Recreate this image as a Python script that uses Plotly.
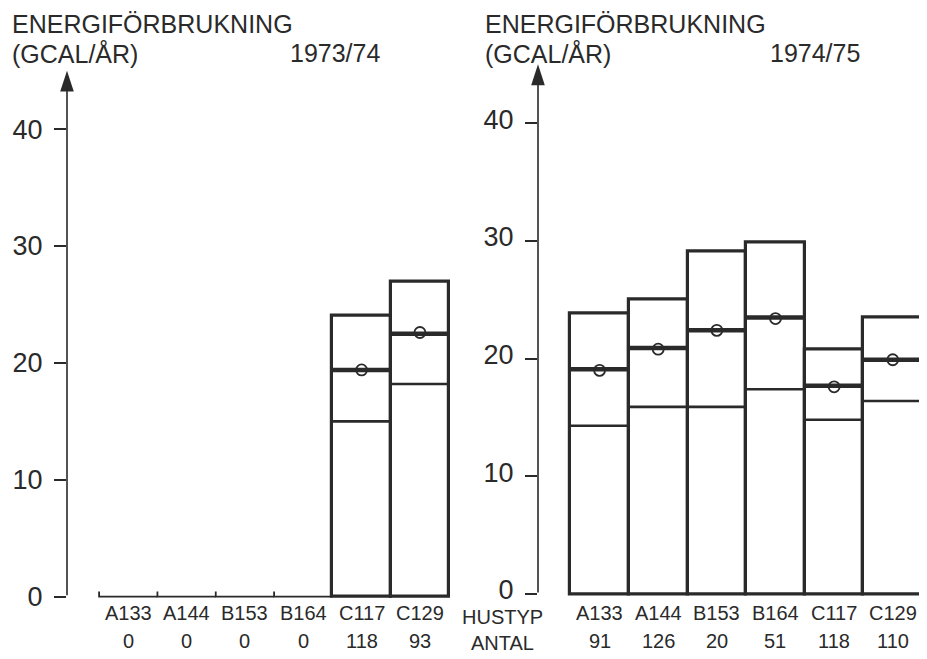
import plotly.graph_objects as go

# ---------------- data ----------------
hustyp = ["A133", "A144", "B153", "B164", "C117", "C129"]
antal_7374 = [0, 0, 0, 0, 118, 93]
antal_7475 = [91, 126, 20, 51, 118, 110]

# 1973/74 (GCAL/år)
top_7374 = [None, None, None, None, 24.0, 26.9]
mid_7374 = [None, None, None, None, 19.4, 22.5]
low_7374 = [None, None, None, None, 15.0, 18.2]
circ_7374 = [None, None, None, None, 19.4, 22.6]

# 1974/75 (GCAL/år)
top_7475 = [23.8, 25.0, 29.1, 29.9, 20.8, 23.5]
mid_7475 = [19.1, 20.9, 22.4, 23.5, 17.7, 19.9]
low_7475 = [14.3, 15.9, 15.9, 17.4, 14.8, 16.4]
circ_7475 = [19.0, 20.8, 22.4, 23.4, 17.6, 19.9]

y_ticks = [0, 10, 20, 30, 40]
title_l1 = "ENERGIFÖRBRUKNING"
title_l2 = "(GCAL/ÅR)"
years = ["1973/74", "1974/75"]
row_labels = ["HUSTYP", "ANTAL"]

# ---------------- style / layout helpers ----------------
OFF = 8                      # page body margin
FW, FH = 927 - OFF, 659 - OFF
INK = "#2a2a2a"
FONT = "Liberation Sans"
XR = [-1.05, 5.55]
YR = [-0.3, 45.5]
ARROW_TOP = 45.0


def fx(px):
    return (px - OFF) / FW


def fy(py):
    return 1 - (py - OFF) / FH


def ydomain(zero_px, ppu):
    bottom = zero_px - YR[0] * ppu
    top = zero_px - YR[1] * ppu
    return [fy(bottom), fy(top)]


fig = go.Figure()


def segs(vals):
    xs, ys = [], []
    for i, v in enumerate(vals):
        if v is None:
            continue
        xs += [i - 0.5, i + 0.5, None]
        ys += [v, v, None]
    return xs, ys


def add_panel(xa, ya, top, mid, low, circ, antal):
    idx = list(range(len(hustyp)))
    fig.add_trace(go.Bar(
        x=idx, y=top, width=1, xaxis=xa, yaxis=ya,
        marker=dict(color="white", line=dict(color=INK, width=3.2)),
        showlegend=False, hoverinfo="skip"))
    xs, ys = segs(low)
    fig.add_trace(go.Scatter(x=xs, y=ys, mode="lines", xaxis=xa, yaxis=ya,
                             line=dict(color=INK, width=2.6), showlegend=False))
    xs, ys = segs(mid)
    fig.add_trace(go.Scatter(x=xs, y=ys, mode="lines", xaxis=xa, yaxis=ya,
                             line=dict(color=INK, width=4.5), showlegend=False))
    fig.add_trace(go.Scatter(x=idx, y=circ, mode="markers", xaxis=xa, yaxis=ya,
                             marker=dict(symbol="circle-open", size=11, color=INK,
                                         line=dict(width=1.8, color=INK)),
                             showlegend=False))
    # baseline with boundary ticks for categories without data
    bx, by = [], []
    for i, a in enumerate(antal):
        if a == 0:
            bx += [i - 0.5, i - 0.5, i + 0.5, None]
            by += [0.45, 0, 0, None]
    if bx:
        fig.add_trace(go.Scatter(x=bx, y=by, mode="lines", xaxis=xa, yaxis=ya,
                                 line=dict(color=INK, width=1.8), showlegend=False))
    # arrow head of the value axis
    fig.add_trace(go.Scatter(x=[XR[0]], y=[ARROW_TOP], mode="markers",
                             xaxis=xa, yaxis=ya, cliponaxis=False,
                             marker=dict(symbol="arrow", angle=0, size=22,
                                         color=INK, line=dict(width=0)),
                             showlegend=False))
    # category labels (HUSTYP / ANTAL)
    for i, (h, a) in enumerate(zip(hustyp, antal)):
        fig.add_annotation(x=i, y=fy(613), xref=xa, yref="paper",
                           text=h, showarrow=False, yanchor="middle",
                           font=dict(family=FONT, size=20, color=INK))
        fig.add_annotation(x=i, y=fy(641), xref=xa, yref="paper",
                           text=str(a), showarrow=False, yanchor="middle",
                           font=dict(family=FONT, size=20, color=INK))


add_panel("x", "y", top_7374, mid_7374, low_7374, circ_7374, antal_7374)
add_panel("x2", "y2", top_7475, mid_7475, low_7475, circ_7475, antal_7475)


def xaxis(domain, anchor):
    return dict(domain=domain, range=XR, anchor=anchor, showgrid=False,
                zeroline=False, showline=False, ticks="", showticklabels=False,
                automargin=False, fixedrange=True)


def yaxis(domain, anchor, shift):
    return dict(domain=domain, range=YR, anchor=anchor, showgrid=False,
                zeroline=False, showline=False, ticks="outside", ticklen=12,
                tickwidth=1.6, tickcolor=INK, tickvals=y_ticks, automargin=False,
                ticklabelstandoff=6, ticklabelshift=shift, fixedrange=True,
                tickfont=dict(family=FONT, size=27, color=INK))


fig.update_layout(
    width=FW, height=FH, template="none",
    margin=dict(l=0, r=0, t=0, b=0),
    paper_bgcolor="white", plot_bgcolor="rgba(0,0,0,0)",
    bargap=0, showlegend=False,
    xaxis=xaxis([fx(67), fx(452)], "y"),
    xaxis2=xaxis([fx(538), fx(925)], "y2"),
    yaxis=yaxis(ydomain(596.7, 11.69), "x", 0),
    yaxis2=yaxis(ydomain(594.0, 11.77), "x2", -4),
)

# value-axis lines
for xa, ya in (("x", "y"), ("x2", "y2")):
    fig.add_annotation(x=XR[0], y=ARROW_TOP - 1, ax=XR[0], ay=0, xref=xa, yref=ya,
                       axref=xa, ayref=ya, text="", showarrow=True,
                       arrowhead=0, arrowwidth=1.6,
                       arrowcolor=INK, standoff=0, startstandoff=0)

# titles
for x0, xyear, yr in ((10, 335, years[0]), (483, 815, years[1])):
    fig.add_annotation(x=fx(x0), y=fy(24), xref="paper", yref="paper",
                       xanchor="left", yanchor="middle",
                       text=title_l1, showarrow=False,
                       font=dict(family=FONT, size=25, color=INK))
    fig.add_annotation(x=fx(x0), y=fy(53), xref="paper", yref="paper",
                       xanchor="left", yanchor="middle",
                       text=title_l2, showarrow=False,
                       font=dict(family=FONT, size=25, color=INK))
    fig.add_annotation(x=fx(xyear), y=fy(53), xref="paper", yref="paper",
                       xanchor="center", yanchor="middle",
                       text=yr, showarrow=False,
                       font=dict(family=FONT, size=25, color=INK))

for lab, py in zip(row_labels, (617, 643)):
    fig.add_annotation(x=fx(502), y=fy(py), xref="paper", yref="paper",
                       xanchor="center", yanchor="middle",
                       text=lab, showarrow=False,
                       font=dict(family=FONT, size=20, color=INK))

fig.write_html("out.html")
